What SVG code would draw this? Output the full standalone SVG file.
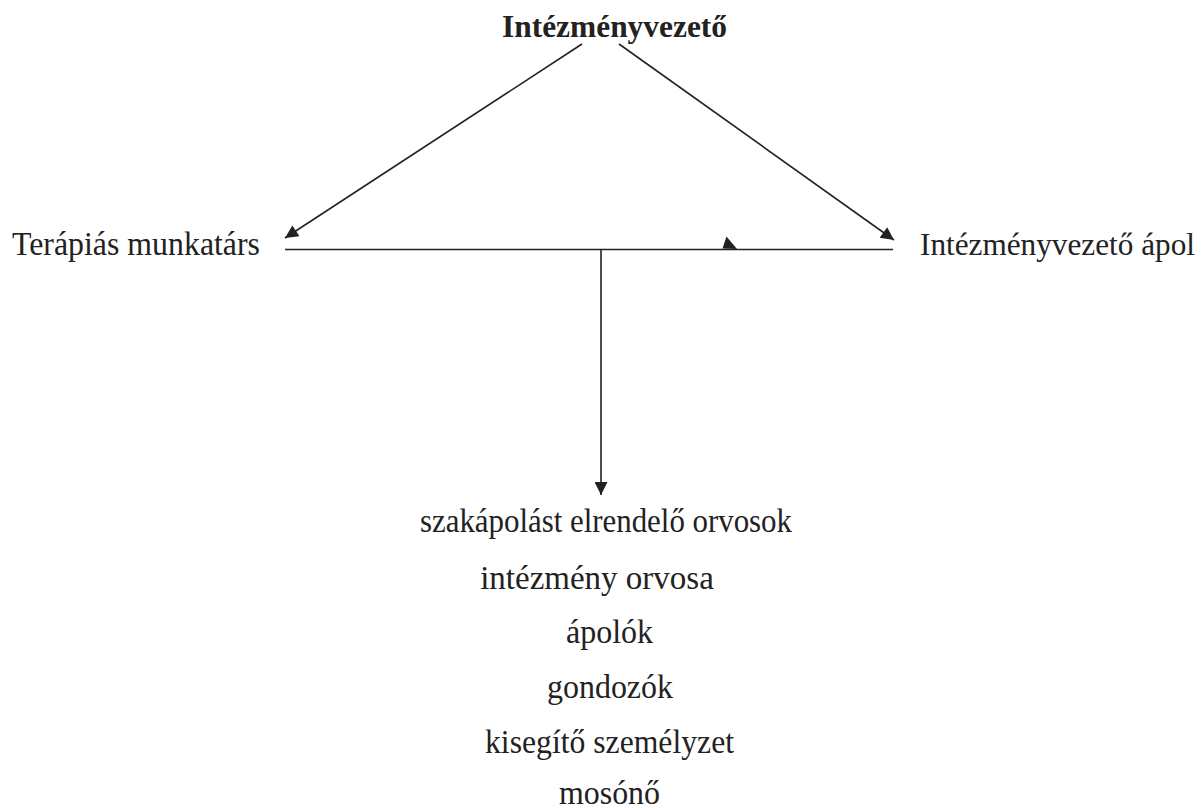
<svg xmlns="http://www.w3.org/2000/svg" width="1202" height="810" viewBox="0 0 1202 810">
<defs>
<style>
.t{font-family:"Liberation Serif","Times New Roman",serif;font-size:33px;fill:#222}
.b{font-weight:bold;font-size:32px}
.c{text-anchor:middle}
.ln{stroke:#222;stroke-width:1.6;fill:none}
</style>
<marker id="ah" viewBox="0 0 10 10" refX="10" refY="5" markerUnits="userSpaceOnUse" markerWidth="15" markerHeight="13" orient="auto">
<path d="M0,0 L10,5 L0,10 z" fill="#222"/>
</marker>
</defs>
<rect width="1202" height="810" fill="#fff"/>
<g id="connectors">
<line class="ln" x1="582" y1="44" x2="285" y2="238" marker-end="url(#ah)"/>
<line class="ln" x1="619" y1="44" x2="894" y2="240" marker-end="url(#ah)"/>
<line class="ln" x1="285" y1="249.5" x2="893" y2="249.5"/>
<polygon points="722.5,248.5 726.5,236.5 737,249" fill="#222"/>
<line class="ln" x1="601" y1="249.5" x2="601" y2="495" marker-end="url(#ah)"/>
</g>
<g id="n-top"><text class="t b" x="502" y="37" textLength="225" lengthAdjust="spacingAndGlyphs">Intézményvezető</text></g>
<g id="n-left"><text class="t" x="12" y="255" textLength="248" lengthAdjust="spacingAndGlyphs">Terápiás munkatárs</text></g>
<g id="n-right"><text class="t" x="920" y="255" style="font-size:32px" textLength="275" lengthAdjust="spacingAndGlyphs">Intézményvezető ápol</text></g>
<g id="n-bottom">
<text class="t" x="420" y="532" textLength="372" lengthAdjust="spacingAndGlyphs">szakápolást elrendelő orvosok</text>
<text class="t c" x="597" y="589">intézmény orvosa</text>
<text class="t" x="566" y="643" textLength="87" lengthAdjust="spacingAndGlyphs">ápolók</text>
<text class="t" x="547" y="698" textLength="126" lengthAdjust="spacingAndGlyphs">gondozók</text>
<text class="t" x="485" y="753" textLength="249" lengthAdjust="spacingAndGlyphs">kisegítő személyzet</text>
<text class="t" x="559" y="804" textLength="101" lengthAdjust="spacingAndGlyphs">mosónő</text>
</g>
</svg>
